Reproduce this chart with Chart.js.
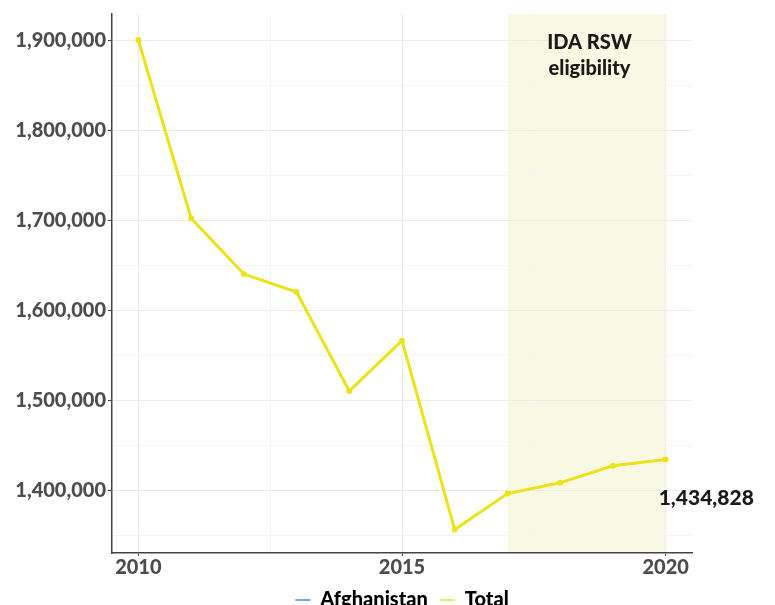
<!DOCTYPE html>
<html><head><meta charset="utf-8">
<script src="https://cdn.jsdelivr.net/npm/chart.js@4.4.1/dist/chart.umd.min.js"></script>
<style>html,body{margin:0;padding:0;background:#fff}#wrap{width:775px;height:605px}</style>
</head><body><div id="wrap"><canvas id="c" width="775" height="605"></canvas></div>
<script>
const years = [2010, 2011, 2012, 2013, 2014, 2015, 2016, 2017, 2018, 2019, 2020];
const afghanistan = [1901000, 1703000, 1641000, 1621000, 1511000, 1567000, 1357000, 1397000, 1409000, 1428000, 1434828];
const total = [1901000, 1703000, 1641000, 1621000, 1511000, 1567000, 1357000, 1397000, 1409000, 1428000, 1434828];
const xTicks = [2010, 2012.5, 2015, 2017.5, 2020];
const yTicks = [1350000, 1400000, 1450000, 1500000, 1550000, 1600000, 1650000, 1700000, 1750000, 1800000, 1850000, 1900000];
const shadeRange = [2017, 2020];
const shadeLabel = ['IDA RSW', 'eligibility'];
const endLabel = '1,434,828';

const FONT = 'Lato';

const annot = {
  id: 'annot',
  beforeDraw(chart) {
    const {ctx, chartArea, scales} = chart;
    const x0 = scales.x.getPixelForValue(shadeRange[0]);
    const x1 = scales.x.getPixelForValue(shadeRange[1]);
    ctx.save();
    ctx.fillStyle = '#f9f9e3';
    ctx.fillRect(x0, chartArea.top, x1 - x0, chartArea.bottom - chartArea.top);
    ctx.restore();
  },
  afterDatasetsDraw(chart) {
    const {ctx, chartArea, scales} = chart;
    const x0 = scales.x.getPixelForValue(shadeRange[0]);
    const x1 = scales.x.getPixelForValue(shadeRange[1]);
    ctx.save();
    ctx.fillStyle = '#1a1a1a';
    ctx.font = `900 20px ${FONT}`;
    ctx.textAlign = 'center';
    ctx.textBaseline = 'middle';
    const cx = (x0 + x1) / 2 + 3;
    ctx.fillText(shadeLabel[0], cx, chartArea.top + 29);
    ctx.fillText(shadeLabel[1], cx, chartArea.top + 55);
    const n = total.length - 1;
    const px = scales.x.getPixelForValue(years[n]);
    const py = scales.y.getPixelForValue(total[n]);
    ctx.font = `900 21px ${FONT}`;
    ctx.textAlign = 'left';
    ctx.fillText(endLabel, px - 7, py + 39);
    ctx.restore();
  }
};

new Chart(document.getElementById('c'), {
  type: 'line',
  data: {
    datasets: [
      {
        label: 'Afghanistan',
        data: years.map((y, i) => ({x: y, y: afghanistan[i]})),
        borderColor: '#3b8ed2',
        backgroundColor: '#3b8ed2',
        borderWidth: 1.5,
        pointRadius: 1.5,
        pointHoverRadius: 1.5,
        order: 1,
        tension: 0
      },
      {
        label: 'Total',
        data: years.map((y, i) => ({x: y, y: total[i]})),
        borderColor: '#ebe31a',
        backgroundColor: '#ebe31a',
        borderWidth: 3,
        pointRadius: 1.5,
        pointHoverRadius: 1.5,
        order: 0,
        tension: 0
      }
    ]
  },
  options: {
    responsive: false,
    animation: false,
    events: [],
    layout: {padding: {top: 13, right: 83, left: 0, bottom: -15}},
    plugins: {
      tooltip: {enabled: false},
      legend: {
        position: 'bottom',
        fullSize: false,
        labels: {
          usePointStyle: true,
          pointStyle: 'line',
          pointStyleWidth: 15,
          color: '#000',
          font: {family: FONT, size: 20, weight: '900'},
          padding: 12,
          sort: (a, b) => a.datasetIndex - b.datasetIndex,
          generateLabels: chart => Chart.defaults.plugins.legend.labels.generateLabels(chart).map(it => Object.assign(it, {lineWidth: 1.5}))
        }
      }
    },
    scales: {
      x: {
        type: 'linear',
        min: 2009.5,
        max: 2020.5,
        afterBuildTicks: s => { s.ticks = xTicks.map(v => ({value: v})); },
        afterFit: s => { s.height = 25; },
        border: {display: true, color: '#444', width: 1.5},
        grid: {
          color: c => (c.tick && c.tick.value % 5 === 0) ? '#ebebeb' : '#f4f4f4',
          lineWidth: 1,
          tickLength: 3,
          tickColor: c => (c.tick && c.tick.value % 5 === 0) ? '#444' : 'rgba(0,0,0,0)'
        },
        ticks: {
          autoSkip: false,
          maxRotation: 0,
          padding: 0,
          color: '#4d4d4d',
          font: {family: FONT, size: 20, weight: '900'},
          callback: v => (v % 5 === 0 ? String(v) : '')
        }
      },
      y: {
        min: 1331000,
        max: 1930000,
        afterBuildTicks: s => { s.ticks = yTicks.map(v => ({value: v})); },
        afterFit: s => { s.width = 112; },
        border: {display: true, color: '#444', width: 1.5},
        grid: {
          color: c => (c.tick && c.tick.value % 100000 === 0) ? '#ebebeb' : '#f4f4f4',
          lineWidth: 1,
          tickLength: 4,
          tickColor: c => (c.tick && c.tick.value % 100000 === 0) ? '#444' : 'rgba(0,0,0,0)'
        },
        ticks: {
          autoSkip: false,
          padding: 2,
          color: '#4d4d4d',
          font: {family: FONT, size: 20, weight: '900'},
          callback: v => (v % 100000 === 0 ? v.toLocaleString('en-US') : '')
        }
      }
    }
  },
  plugins: [annot]
});
</script>
</body></html>
